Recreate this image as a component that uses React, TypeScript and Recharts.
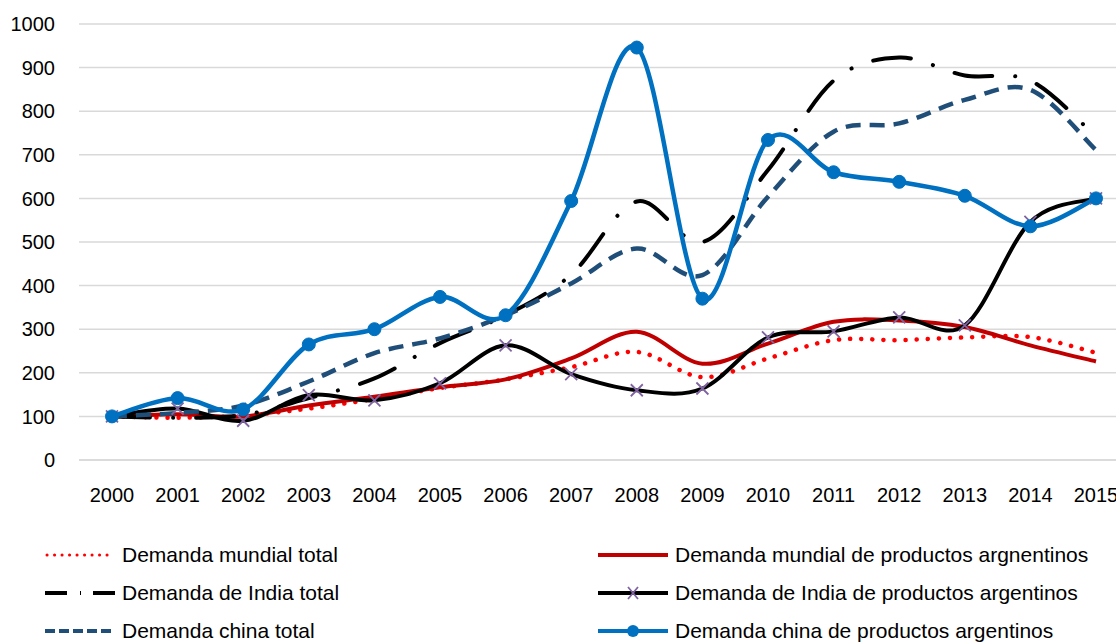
import React from 'react';
import { LineChart, Line, XAxis, YAxis, CartesianGrid } from 'recharts';

const years = ['2000', '2001', '2002', '2003', '2004', '2005', '2006', '2007', '2008', '2009', '2010', '2011', '2012', '2013', '2014', '2015'];

const mundialTotal = [100, 97, 102, 118, 140, 165, 185, 213, 248, 190, 233, 275, 275, 281, 282, 246];
const mundialArg = [100, 105, 100, 125, 145, 167, 185, 233, 294, 221, 267, 317, 320, 305, 263, 226];
const indiaTotal = [100, 97, 103, 142, 187, 268, 332, 425, 593, 500, 665, 870, 923, 882, 870, 742];
const indiaArg = [100, 118, 90, 149, 137, 176, 263, 197, 160, 164, 281, 295, 327, 309, 546, 600];
const chinaTotal = [100, 108, 125, 180, 245, 279, 332, 405, 485, 424, 604, 753, 772, 826, 849, 711];
const chinaArg = [100, 142, 116, 265, 300, 374, 332, 594, 946, 370, 734, 660, 638, 606, 536, 600];

const yTicks = [0, 100, 200, 300, 400, 500, 600, 700, 800, 900, 1000];

const labels = {
  mundialTotal: 'Demanda mundial total',
  mundialArg: 'Demanda mundial de productos argnentinos',
  indiaTotal: 'Demanda de India total',
  indiaArg: 'Demanda de India de productos argentinos',
  chinaTotal: 'Demanda china total',
  chinaArg: 'Demanda china de productos argentinos',
};

const data = years.map((year, i) => ({
  year,
  mundialTotal: mundialTotal[i],
  mundialArg: mundialArg[i],
  indiaTotal: indiaTotal[i],
  indiaArg: indiaArg[i],
  chinaTotal: chinaTotal[i],
  chinaArg: chinaArg[i],
}));

// Excel-like smoothing (Catmull-Rom through the points)
const smoothCurve = (context: any) => {
  let pts: number[][] = [];
  return {
    areaStart() {},
    areaEnd() {},
    lineStart() {
      pts = [];
    },
    point(x: number, y: number) {
      pts.push([+x, +y]);
    },
    lineEnd() {
      const n = pts.length;
      if (!n) return;
      context.moveTo(pts[0][0], pts[0][1]);
      for (let i = 0; i < n - 1; i++) {
        const p0 = pts[i - 1] || pts[i];
        const p1 = pts[i];
        const p2 = pts[i + 1];
        const p3 = pts[i + 2] || p2;
        context.bezierCurveTo(
          p1[0] + (p2[0] - p0[0]) / 6,
          p1[1] + (p2[1] - p0[1]) / 6,
          p2[0] - (p3[0] - p1[0]) / 6,
          p2[1] - (p3[1] - p1[1]) / 6,
          p2[0],
          p2[1]
        );
      }
    },
  };
};

const XMark = (props: any) => {
  const { cx, cy, index } = props;
  if (cx == null || cy == null) return <g key={`xm-${index}`} />;
  const s = 6;
  return (
    <path
      key={`xm-${index}`}
      d={`M${cx - s},${cy - s}L${cx + s},${cy + s}M${cx - s},${cy + s}L${cx + s},${cy - s}`}
      stroke="#8064A2"
      strokeWidth={1.8}
      fill="none"
    />
  );
};

const font = '"Liberation Sans", Arial, sans-serif';

const LegendIcon = ({ kind }: { kind: string }) => {
  const w = 70;
  const y = 10;
  let line: React.ReactNode = null;
  if (kind === 'mundialTotal') {
    line = <line x1={2} y1={y} x2={w - 2} y2={y} stroke="#FF0000" strokeWidth={3} strokeDasharray="0.1 7.4" strokeLinecap="round" />;
  } else if (kind === 'mundialArg') {
    line = <line x1={0} y1={y} x2={w} y2={y} stroke="#C00000" strokeWidth={4} />;
  } else if (kind === 'indiaTotal') {
    line = <line x1={0} y1={y} x2={w} y2={y} stroke="#000" strokeWidth={4} strokeDasharray="22 13 1 12 22" />;
  } else if (kind === 'indiaArg') {
    line = (
      <g>
        <line x1={0} y1={y} x2={w} y2={y} stroke="#000" strokeWidth={4} />
        <path d={`M${w / 2 - 5},${y - 6}L${w / 2 + 5},${y + 6}M${w / 2 - 5},${y + 6}L${w / 2 + 5},${y - 6}`} stroke="#8064A2" strokeWidth={1.8} />
      </g>
    );
  } else if (kind === 'chinaTotal') {
    line = <line x1={0} y1={y} x2={w} y2={y} stroke="#1F4E79" strokeWidth={4} strokeDasharray="10 4" />;
  } else {
    line = (
      <g>
        <line x1={0} y1={y} x2={w} y2={y} stroke="#0070C0" strokeWidth={4} />
        <circle cx={w / 2} cy={y} r={6} fill="#0070C0" />
      </g>
    );
  }
  return (
    <svg width={w} height={20} style={{ display: 'block' }}>
      {line}
    </svg>
  );
};

const legendItems = [
  ['mundialTotal', 'mundialArg'],
  ['indiaTotal', 'indiaArg'],
  ['chinaTotal', 'chinaArg'],
];

export default function App() {
  return (
    <div
      style={{
        position: 'absolute',
        left: 0,
        top: 0,
        width: 1116,
        height: 643,
        overflow: 'hidden',
        background: '#fff',
        fontFamily: font,
      }}
    >
      <LineChart width={1140} height={520} data={data} margin={{ top: 24, right: 11, bottom: 0, left: 0 }}>
        <CartesianGrid vertical={false} stroke="#D9D9D9" strokeWidth={1.5} />
        <XAxis
          dataKey="year"
          interval={0}
          height={60}
          padding={{ left: 33, right: 33 }}
          axisLine={{ stroke: '#D9D9D9', strokeWidth: 1.5 }}
          tickLine={false}
          tickSize={0}
          tickMargin={28}
          tick={{ fill: '#000', fontSize: 20, fontFamily: font }}
        />
        <YAxis
          width={79}
          domain={[0, 1000]}
          ticks={yTicks}
          interval={0}
          axisLine={false}
          tickLine={false}
          tickSize={0}
          tickMargin={24}
          tick={{ fill: '#000', fontSize: 20, fontFamily: font }}
        />
        <Line
          dataKey="mundialTotal"
          name={labels.mundialTotal}
          type={smoothCurve as any}
          stroke="#FF0000"
          strokeWidth={4.5}
          strokeDasharray="0.1 11"
          strokeLinecap="round"
          dot={false}
          activeDot={false}
          isAnimationActive={false}
        />
        <Line
          dataKey="mundialArg"
          name={labels.mundialArg}
          type={smoothCurve as any}
          stroke="#C00000"
          strokeWidth={4}
          dot={false}
          activeDot={false}
          isAnimationActive={false}
        />
        <Line
          dataKey="indiaTotal"
          name={labels.indiaTotal}
          type={smoothCurve as any}
          stroke="#000000"
          strokeWidth={4}
          strokeDasharray="38 23 0.1 23"
          strokeLinecap="round"
          dot={false}
          activeDot={false}
          isAnimationActive={false}
        />
        <Line
          dataKey="indiaArg"
          name={labels.indiaArg}
          type={smoothCurve as any}
          stroke="#000000"
          strokeWidth={4}
          dot={XMark}
          activeDot={false}
          isAnimationActive={false}
        />
        <Line
          dataKey="chinaTotal"
          name={labels.chinaTotal}
          type={smoothCurve as any}
          stroke="#1F4E79"
          strokeWidth={4.5}
          strokeDasharray="15 9"
          dot={false}
          activeDot={false}
          isAnimationActive={false}
        />
        <Line
          dataKey="chinaArg"
          name={labels.chinaArg}
          type={smoothCurve as any}
          stroke="#0070C0"
          strokeWidth={4.5}
          dot={{ r: 6.5, fill: '#0070C0', stroke: '#0070C0', strokeWidth: 1 }}
          activeDot={false}
          isAnimationActive={false}
        />
      </LineChart>
      {legendItems.map((row, r) =>
        row.map((key, c) => (
          <div
            key={key}
            style={{
              position: 'absolute',
              left: c === 0 ? 45 : 598,
              top: 555 + r * 38 - 12,
              height: 24,
              display: 'flex',
              alignItems: 'center',
              whiteSpace: 'nowrap',
              fontSize: 21,
              color: '#000',
            }}
          >
            <LegendIcon kind={key} />
            <span style={{ marginLeft: 7 }}>{(labels as any)[key]}</span>
          </div>
        ))
      )}
    </div>
  );
}
